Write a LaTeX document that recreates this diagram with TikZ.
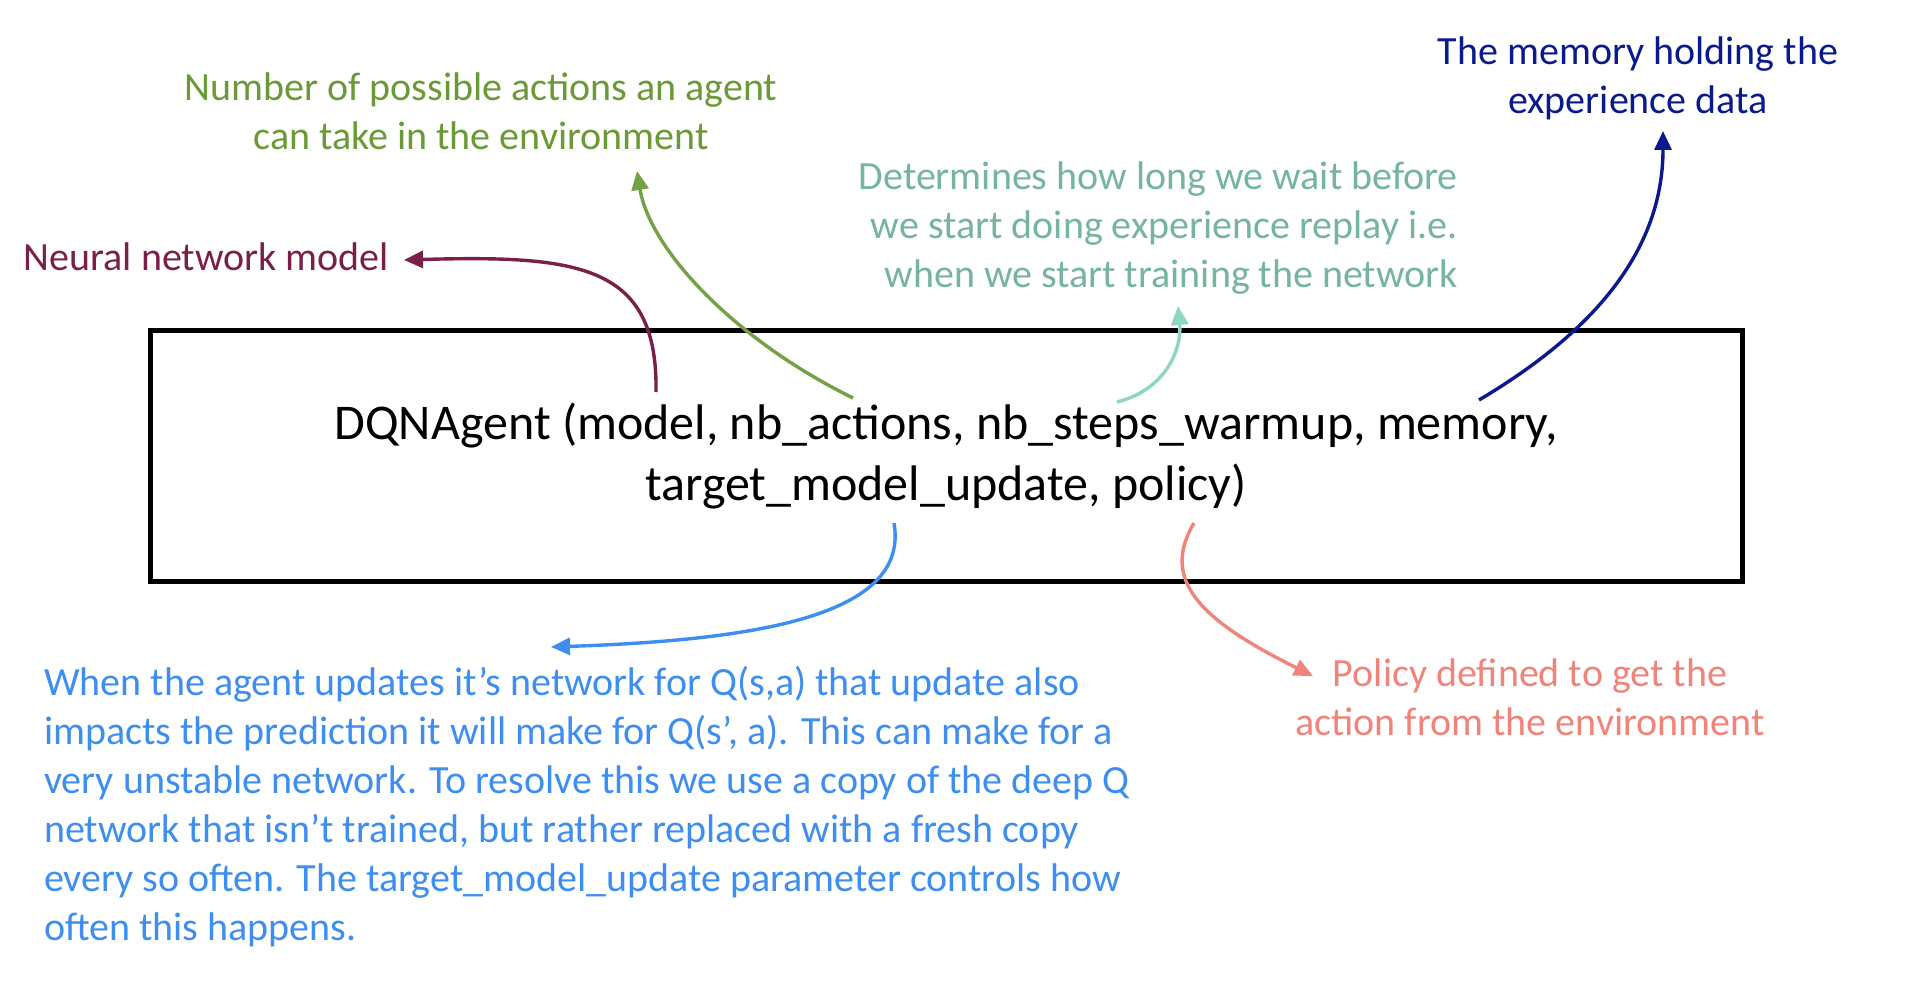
\documentclass[tikz,border=0pt]{standalone}
\usepackage{fontspec}
\setmainfont{Carlito}
\usetikzlibrary{arrows.meta}
\definecolor{cmaroon}{HTML}{7A2048}
\definecolor{cgreen}{HTML}{6A9A35}
\definecolor{cgreenarr}{HTML}{74A046}
\definecolor{cteal}{HTML}{76B4A2}
\definecolor{cmint}{HTML}{8ED6C4}
\definecolor{cnavy}{HTML}{0A1A8C}
\definecolor{cblue}{HTML}{3D8EF0}
\definecolor{csalmon}{HTML}{F0847A}
\begin{document}
\begin{tikzpicture}[x=1pt,y=-1pt,
  lbl/.style={inner sep=0pt, font=\fontsize{40}{49}\selectfont},
  conn/.style={line width=3.4pt, -{Triangle[length=19pt,width=17pt]}}]
\useasboundingbox[fill=white] (0,0) rectangle (1920,981);
\node[draw, line width=5pt, minimum width=1592pt, minimum height=250pt, inner sep=0pt,
  align=center, font=\fontsize{50}{61}\selectfont] (agent) at (946,456)
  {DQNAgent (model, nb\_actions, nb\_steps\_warmup, memory,\\target\_model\_update, policy)};

\node[lbl, text=cmaroon, anchor=east] (nnm) at (389,257) {Neural network model};
\node[lbl, text=cgreen, align=center] (nba) at (481,111.5)
  {Number of possible actions an agent\\can take in the environment};
\node[lbl, text=cteal, align=right, anchor=east] (warm) at (1458,228)
  {Determines how long we wait before\\we start doing experience replay i.e.\\when we start training the network};
\node[lbl, text=cnavy, align=center] (mem) at (1638,78.5)
  {The memory holding the\\experience data};
\node[lbl, text=cblue, align=left, anchor=west] (tmu) at (44,807)
  {When the agent updates it’s network for Q(s,a) that update also\\
   impacts the prediction it will make for Q(s’, a). This can make for a\\
   very unstable network. To resolve this we use a copy of the deep Q\\
   network that isn’t trained, but rather replaced with a fresh copy\\
   every so often. The target\_model\_update parameter controls how\\
   often this happens.};
\node[lbl, text=csalmon, align=center] (pol) at (1530,697.5)
  {Policy defined to get the\\action from the environment};

\coordinate (sModel) at ([shift={(-290,-64)}]agent.center);
\coordinate (sActions) at ([shift={(-93,-58)}]agent.center);
\coordinate (sWarmup) at ([shift={(171,-54)}]agent.center);
\coordinate (sMemory) at ([shift={(533,-56)}]agent.center);
\coordinate (sTarget) at ([shift={(-52,67)}]agent.center);
\coordinate (sPolicy) at ([shift={(248,67)}]agent.center);

\draw[conn, cmaroon] (sModel) .. controls (658,265) and (580,255) .. ([shift={(15,3)}]nnm.east);
\draw[conn, cgreenarr] (sActions) .. controls (735,340) and (650,250) .. ([shift={(156,59.5)}]nba.center);
\draw[conn, cmint] (sWarmup) .. controls (1165,390) and (1182,350) .. ([shift={(-280,78)}]warm.east);
\draw[conn, cnavy] (sMemory) .. controls (1580,340) and (1663,260) .. ([shift={(25,52.5)}]mem.center);
\draw[conn, cblue] (sTarget) .. controls (910,615) and (760,640) .. ([shift={(507,-160)}]tmu.west);
\draw[conn, csalmon] (sPolicy) .. controls (1160,580) and (1200,620) .. ([shift={(-217,-21.5)}]pol.center);
\end{tikzpicture}
\end{document}
